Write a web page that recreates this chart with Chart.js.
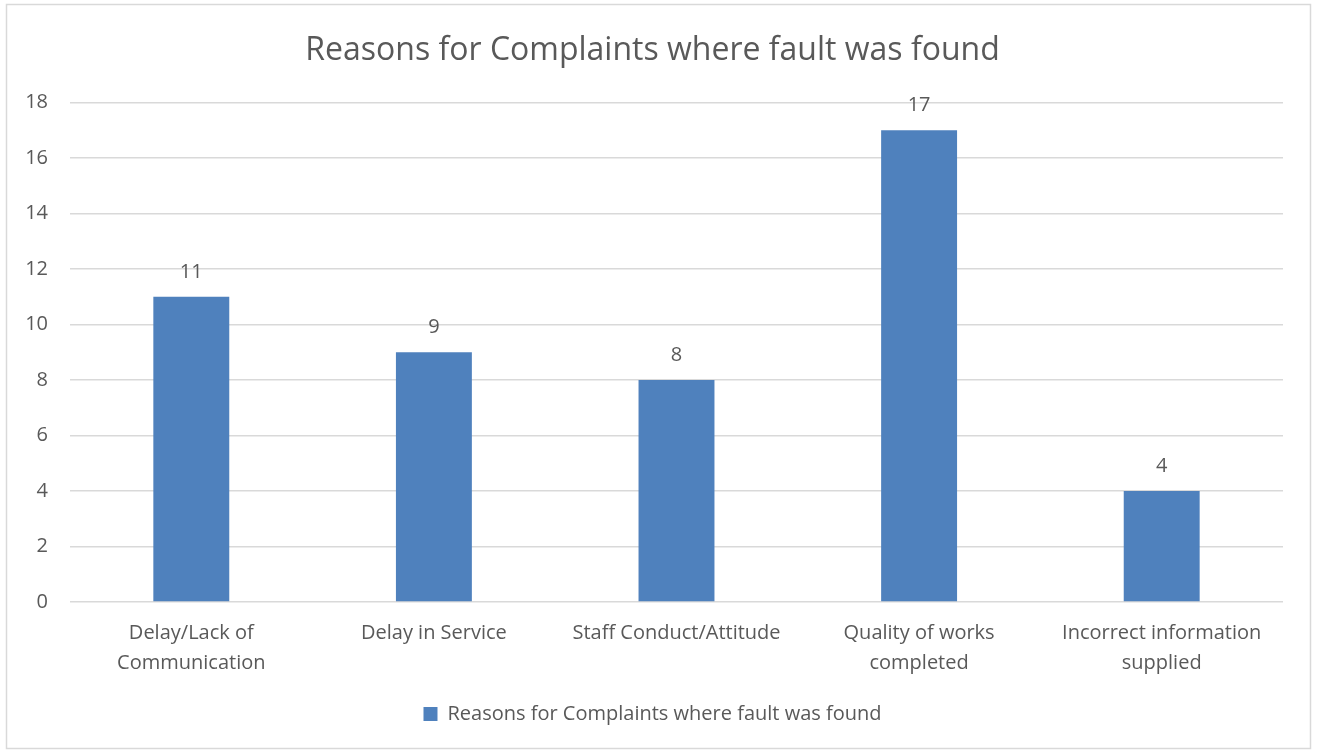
<!DOCTYPE html>
<html>
<head>
<meta charset="utf-8">
<script src="https://cdn.jsdelivr.net/npm/chart.js@4"></script>
<style>
  html, body { margin: 0; padding: 0; background: #fff; }
  #wrap { position: absolute; left: 0; top: 0; width: 1317px; height: 753px; }
</style>
</head>
<body>
<div id="wrap"><canvas id="chart"></canvas></div>
<script>
const categories = [
  ['Delay/Lack of', 'Communication'],
  'Delay in Service',
  'Staff Conduct/Attitude',
  ['Quality of works', 'completed'],
  ['Incorrect information', 'supplied']
];
const complaintCounts = [11, 9, 8, 17, 4];
const yTicks = [0, 2, 4, 6, 8, 10, 12, 14, 16, 18];

const seriesName = 'Reasons for Complaints where fault was found';
const barColor = '#4F81BD';
const textColor = '#595959';
const fontFamily = '"Open Sans", "Noto Sans", sans-serif';

// outer frame like the office chart border
const frame = {
  id: 'frame',
  beforeDraw(chart) {
    const ctx = chart.ctx;
    ctx.save();
    ctx.strokeStyle = '#D9D9D9';
    ctx.lineWidth = 1.5;
    ctx.strokeRect(6.5, 4.5, 1304, 744);
    ctx.restore();
  }
};

// value labels above each bar
const valueLabels = {
  id: 'valueLabels',
  afterDatasetsDraw(chart) {
    const ctx = chart.ctx;
    const meta = chart.getDatasetMeta(0);
    ctx.save();
    ctx.font = '20px ' + fontFamily;
    ctx.fillStyle = textColor;
    ctx.textAlign = 'center';
    ctx.textBaseline = 'alphabetic';
    meta.data.forEach((bar, i) => {
      ctx.fillText(String(complaintCounts[i]), bar.x, bar.y - 19);
    });
    ctx.restore();
  }
};

new Chart(document.getElementById('chart'), {
  type: 'bar',
  data: {
    labels: categories,
    datasets: [{
      label: seriesName,
      data: complaintCounts,
      backgroundColor: barColor,
      borderWidth: 0,
      barPercentage: 0.313,
      categoryPercentage: 1
    }]
  },
  options: {
    responsive: true,
    maintainAspectRatio: false,
    animation: false,
    layout: {
      padding: { top: 6, left: 22, right: 34, bottom: 19 }
    },
    plugins: {
      title: {
        display: true,
        text: seriesName,
        color: textColor,
        font: { family: fontFamily, size: 32, weight: 'normal' },
        padding: { top: 26, bottom: 32 }
      },
      legend: {
        position: 'bottom',
        labels: {
          color: textColor,
          font: { family: fontFamily, size: 20 },
          boxWidth: 14,
          boxHeight: 14,
          padding: 10
        }
      },
      tooltip: { enabled: false }
    },
    scales: {
      x: {
        grid: { display: false, drawTicks: false },
        border: { display: false },
        ticks: {
          color: textColor,
          font: { family: fontFamily, size: 20, lineHeight: 1.5 },
          padding: 16,
          maxRotation: 0,
          autoSkip: false
        }
      },
      y: {
        min: 0,
        max: 18,
        afterBuildTicks(axis) {
          axis.ticks = yTicks.map(v => ({ value: v }));
        },
        afterFit(axis) {
          axis.width = 48;
        },
        grid: { color: '#D9D9D9', lineWidth: 1.5, drawTicks: false },
        border: { display: false },
        ticks: {
          color: textColor,
          font: { family: fontFamily, size: 20 },
          padding: 22
        }
      }
    }
  },
  plugins: [frame, valueLabels]
});
</script>
</body>
</html>
